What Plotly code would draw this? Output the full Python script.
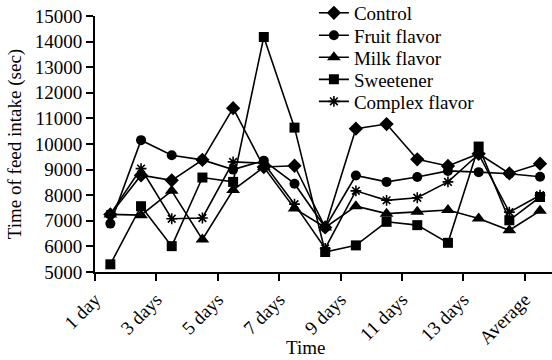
import plotly.graph_objects as go

categories = ["1 day", "2 days", "3 days", "4 days", "5 days", "6 days", "7 days",
              "8 days", "9 days", "10 days", "11 days", "12 days", "13 days",
              "14 days", "Average"]
tick_labels = ["1 day", "3 days", "5 days", "7 days", "9 days", "11 days", "13 days", "Average"]
y_ticks = [5000, 6000, 7000, 8000, 9000, 10000, 11000, 12000, 13000, 14000, 15000]

control = [7250, 8780, 8580, 9380, 11400, 9100, 9150, 6740, 10600, 10780, 9400, 9140, 9620, 8850, 9230]
fruit = [6890, 10150, 9560, 9380, 9000, 9350, 8450, 6740, 8770, 8520, 8710, 8950, 8900, 8840, 8720]
milk = [7250, 7220, 8170, 6270, 8200, 9100, 7480, 6740, 7570, 7280, 7350, 7420, 7090, 6630, 7390]
sweetener = [5300, 7570, 6010, 8690, 8520, 14180, 10640, 5780, 6040, 6960, 6830, 6140, 9900, 7020, 7930]
complex_flavor = [7260, 9040, 7080, 7110, 9300, 9250, 7650, 5920, 8170, 7800, 7900, 8520, 9600, 7340, 8000]

series = [
    ("Control", control, "diamond", 11),
    ("Fruit flavor", fruit, "circle", 10),
    ("Milk flavor", milk, "triangle-up", 12),
    ("Sweetener", sweetener, "square", 10),
    ("Complex flavor", complex_flavor, "asterisk-open", 9),
]

xpos = list(range(len(categories)))
tickpos = [categories.index(t) - 0.5 for t in tick_labels]

FONT = "Liberation Serif, Times New Roman, serif"
legend_rows_y = [1.012, 0.924, 0.838, 0.752, 0.666]

fig = go.Figure()
legend_layouts = {}
for i, (name, vals, sym, size) in enumerate(series):
    lg = "legend" if i == 0 else f"legend{i + 1}"
    fig.add_trace(go.Scatter(
        x=xpos, y=vals, name=name, mode="lines+markers",
        line=dict(color="black", width=1.6),
        marker=dict(symbol=sym, size=size, color="black",
                    line=dict(color="black", width=1.6 if sym == "asterisk-open" else 0)),
        cliponaxis=False, legend=lg,
    ))
    legend_layouts[lg] = dict(x=0.479, y=legend_rows_y[i], xanchor="left", yanchor="middle",
                              font=dict(family=FONT, size=19, color="black"),
                              bgcolor="rgba(0,0,0,0)", itemwidth=30)

fig.update_layout(
    width=552, height=360,
    margin=dict(l=95, r=0, t=16, b=88, autoexpand=False),
    paper_bgcolor="white", plot_bgcolor="white",
    font=dict(family=FONT, size=19, color="black"),
    showlegend=True,
    xaxis=dict(range=[-0.5, 14.39], tickmode="array", tickvals=tickpos, ticktext=tick_labels,
               tickangle=-45, showgrid=False, zeroline=False, automargin=False,
               showline=True, linecolor="black", linewidth=2,
               ticks="outside", ticklen=7, tickwidth=2, tickcolor="black",
               ticklabeloverflow="allow",
               tickfont=dict(family=FONT, size=19, color="black")),
    yaxis=dict(range=[5000, 15000], tickmode="array", tickvals=y_ticks,
               ticktext=[str(v) for v in y_ticks],
               showgrid=False, zeroline=False, automargin=False,
               showline=True, linecolor="black", linewidth=2,
               ticks="outside", ticklen=7, tickwidth=2, tickcolor="black",
               ticklabeloverflow="allow",
               tickfont=dict(family=FONT, size=19, color="black"),
               title=dict(text="Time of feed intake (sec)", font=dict(family=FONT, size=19, color="black"),
                          standoff=8)),
    annotations=[dict(text="Time", x=0.46, y=-0.293, xref="paper", yref="paper",
                      xanchor="center", yanchor="middle", showarrow=False,
                      font=dict(family=FONT, size=19, color="black"))],
)
fig.update_layout(**legend_layouts)

fig.write_html("out.html", config={"displayModeBar": False},
               post_script="document.body.style.margin='0';")
